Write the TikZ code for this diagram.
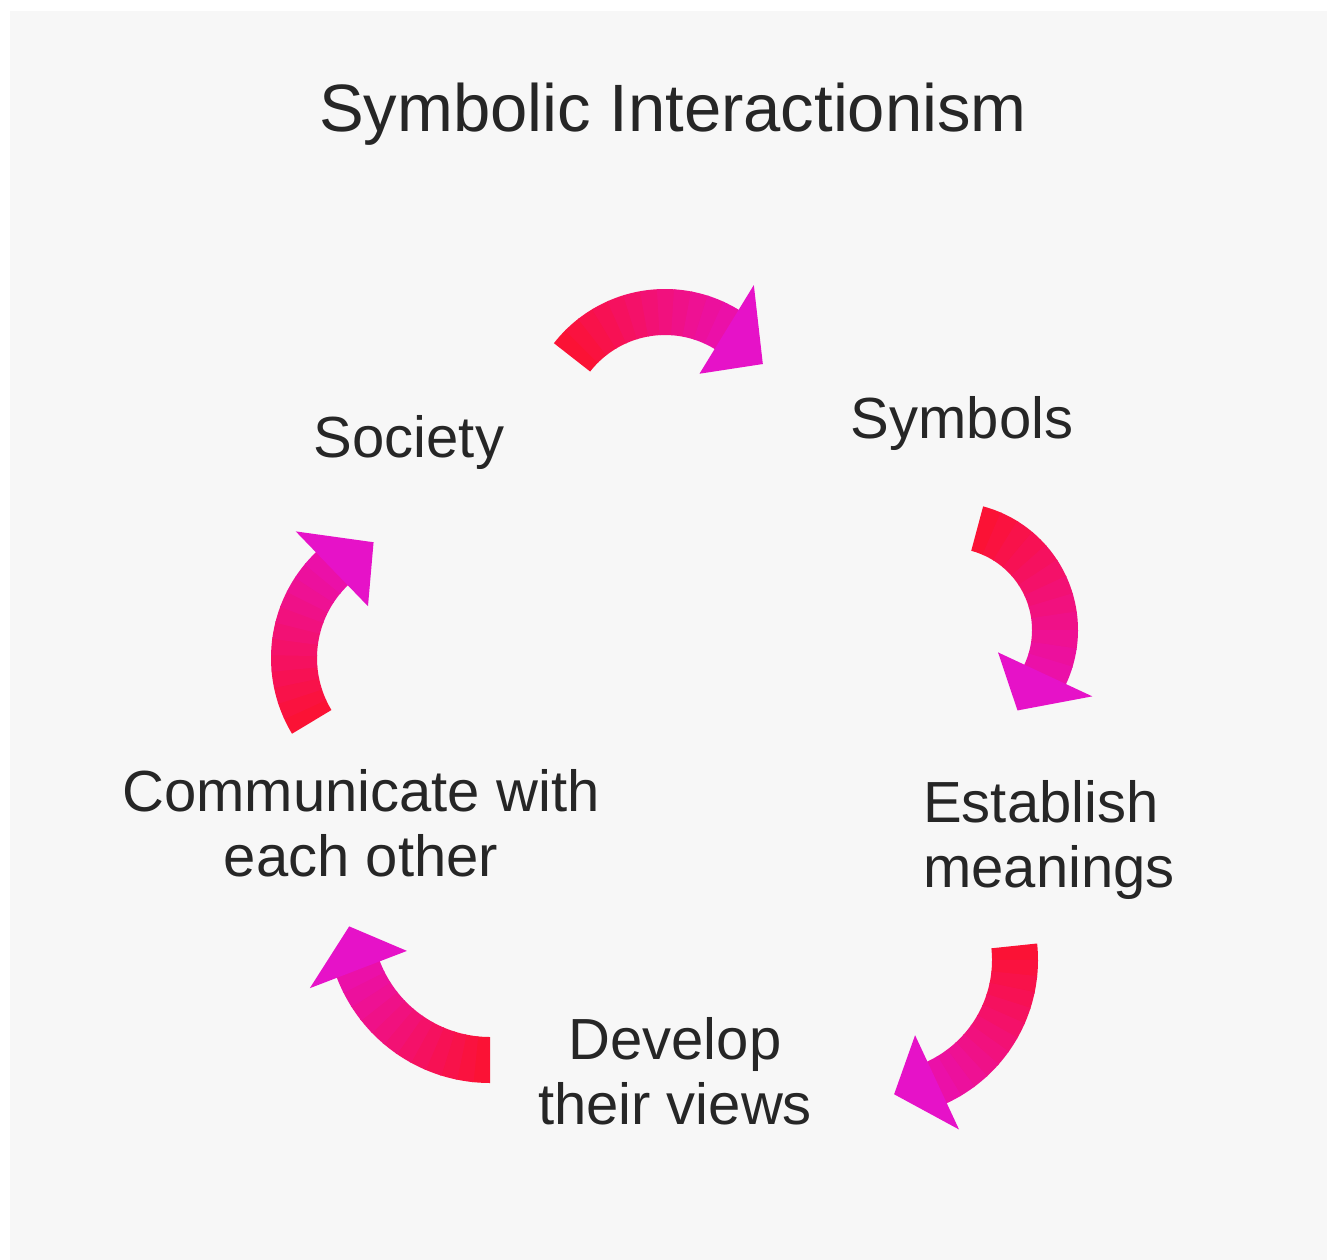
\documentclass[tikz,border=0pt]{standalone}
\usepackage{fontspec}
\setmainfont{Liberation Sans}
\definecolor{bgray}{RGB}{247,247,247}
\definecolor{txt}{RGB}{38,38,38}
\definecolor{ared}{RGB}{252,18,48}
\definecolor{apink}{RGB}{233,16,178}
\definecolor{amag}{RGB}{230,18,200}
\tikzset{
  labeltext/.style={text=txt, inner sep=0pt, font=\fontsize{58}{65}\selectfont},
  titletext/.style={text=txt, inner sep=0pt, font=\fontsize{67}{80}\selectfont}
}
% #1 cx, #2 cy, #3 radius, #4 tail angle, #5 head base angle, #6 tip angle (screen angles, clockwise)
\newcommand{\cyclearrow}[6]{%
  \foreach \k in {0,...,11} {%
    \pgfmathsetmacro{\aa}{#4+(#5-#4)*\k/12}%
    \pgfmathsetmacro{\bb}{#4+(#5-#4)*(\k+1)/12+0.6}%
    \pgfmathtruncatemacro{\pc}{96-8*\k}%
    \fill[ared!\pc!apink]
      plot[domain=\aa:\bb,samples=6] ({#1+(#3+23)*cos(\x)},{#2+(#3+23)*sin(\x)})
      -- plot[domain=\bb:\aa,samples=6] ({#1+(#3-23)*cos(\x)},{#2+(#3-23)*sin(\x)})
      -- cycle;
  }%
  \fill[amag] ({#1+(#3+52)*cos(#5)},{#2+(#3+52)*sin(#5)})
    -- ({#1+#3*cos(#6)},{#2+#3*sin(#6)})
    -- ({#1+(#3-52)*cos(#5)},{#2+(#3-52)*sin(#5)}) -- cycle;
}
\begin{document}
\begin{tikzpicture}[x=1pt,y=-1pt]
  \useasboundingbox (0,0) rectangle (1327,1260);
  \fill[white] (0,0) rectangle (1327,1260);
  \fill[bgray] (10,11) rectangle (1327,1260);

  \node[titletext, anchor=base] (title) at (673,132) {Symbolic Interactionism};

  \node[labeltext, anchor=base] (society) at (409,457) {Society};
  \node[labeltext, anchor=base] (symbols) at (962,438) {Symbols};
  \node[labeltext, align=left, anchor=west] (establish) at (923,840) {Establish\\meanings};
  \node[labeltext, align=center] (develop) at (675,1071) {Develop\\their views};
  \node[labeltext, align=center] (communicate) at (361,823) {Communicate with\\each other};

  % Society -> Symbols
  \cyclearrow{665}{430}{118}{218}{301.5}{326}
  % Symbols -> Establish meanings
  \cyclearrow{950}{630}{105}{285}{385}{410}
  % Establish meanings -> Develop their views
  \cyclearrow{880}{960}{135}{-6}{65}{84}
  % Develop their views -> Communicate with each other
  \cyclearrow{490}{919}{141}{90}{159}{177}
  % Communicate with each other -> Society
  \cyclearrow{418}{658}{124}{149}{226}{249}
\end{tikzpicture}
\end{document}
